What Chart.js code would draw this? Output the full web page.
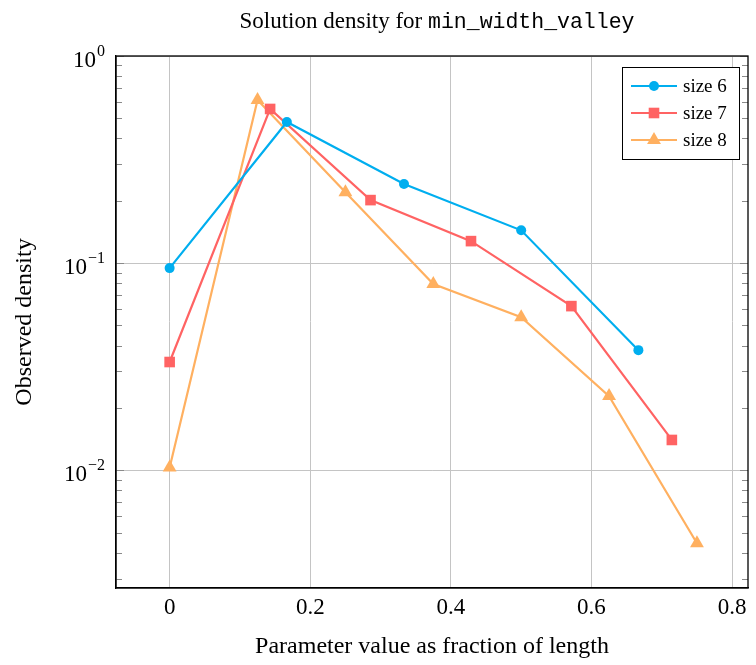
<!DOCTYPE html>
<html lang="en">
<head>
<meta charset="UTF-8">
<title>Solution density</title>
<script src="https://cdn.jsdelivr.net/npm/chart.js"></script>
<style>
  html, body { margin: 0; padding: 0; background: #fff; }
</style>
</head>
<body>
<canvas id="chart" width="756" height="665"></canvas>
<script>
// data
const seriesNames = ['size 6', 'size 7', 'size 8'];
const x6 = [0, 0.1667, 0.3333, 0.5, 0.6667];
const y6 = [0.0946, 0.48, 0.241, 0.144, 0.038];
const x7 = [0, 0.1429, 0.2857, 0.4286, 0.5714, 0.7143];
const y7 = [0.0333, 0.555, 0.2015, 0.1277, 0.062, 0.014];
const x8 = [0, 0.125, 0.25, 0.375, 0.5, 0.625, 0.75];
const y8 = [0.0103, 0.613, 0.22, 0.0792, 0.0548, 0.0228, 0.00444];
const xTicks = [0, 0.2, 0.4, 0.6, 0.8];
const yPowers = [-2, -1, 0];

const SERIF = '"Liberation Serif", "DejaVu Serif", serif';
const MONO = '"Liberation Mono", "DejaVu Sans Mono", monospace';
const colors = ['rgb(0,174,239)', 'rgb(255,99,99)', 'rgb(255,176,96)'];
const styles = ['circle', 'rect', 'triangle'];
const radii = [5, 7.5, 8];

function pts(xs, ys) { return xs.map((x, i) => ({ x: x, y: ys[i] })); }
const allX = [x6, x7, x8], allY = [y6, y7, y8];

const datasets = seriesNames.map((name, i) => ({
  label: name,
  data: pts(allX[i], allY[i]),
  borderColor: colors[i],
  backgroundColor: colors[i],
  borderWidth: 2.2,
  pointStyle: styles[i],
  pointRadius: radii[i],
  pointBorderWidth: 0,
  tension: 0
}));

function isPow10(v) {
  const l = Math.log10(v);
  return Math.abs(l - Math.round(l)) < 1e-6;
}

function drawMarker(ctx, style, r, x, y) {
  ctx.beginPath();
  if (style === 'circle') {
    ctx.arc(x, y, r, 0, Math.PI * 2);
  } else if (style === 'rect') {
    const s = r * Math.SQRT1_2;
    ctx.rect(x - s, y - s, 2 * s, 2 * s);
  } else {
    for (let k = 0; k < 3; k++) {
      const a = k * 2 * Math.PI / 3;
      const px = x + Math.sin(a) * r, py = y - Math.cos(a) * r;
      if (k === 0) ctx.moveTo(px, py); else ctx.lineTo(px, py);
    }
    ctx.closePath();
  }
  ctx.fill();
}

const decorPlugin = {
  id: 'decor',
  afterDraw(chart) {
    const { ctx, chartArea: a, scales: { x, y } } = chart;
    ctx.save();

    // minor ticks on both y sides
    ctx.strokeStyle = '#8a8a8a';
    ctx.lineWidth = 1;
    y.ticks.forEach(t => {
      const py = Math.round(y.getPixelForValue(t.value)) + 0.5;
      const len = isPow10(t.value) ? 8 : 6;
      ctx.beginPath();
      ctx.moveTo(a.left, py); ctx.lineTo(a.left + len, py);
      ctx.moveTo(a.right, py); ctx.lineTo(a.right - len, py);
      ctx.stroke();
    });

    // frame
    ctx.strokeStyle = '#000';
    ctx.lineWidth = 1.3;
    ctx.strokeRect(a.left, a.top, a.right - a.left, a.bottom - a.top);

    // y tick labels 10^n
    ctx.fillStyle = '#000';
    ctx.textBaseline = 'alphabetic';
    yPowers.forEach(p => {
      const py = y.getPixelForValue(Math.pow(10, p));
      const sup = p < 0 ? '\u2212' + (-p) : String(p);
      ctx.font = '16px ' + SERIF;
      const sw = ctx.measureText(sup).width;
      const right = a.left - 11;
      ctx.textAlign = 'right';
      ctx.fillText(sup, right, py);
      ctx.font = '23px ' + SERIF;
      ctx.fillText('10', right - sw - 1, py + 11);
    });

    // title with mixed fonts
    const t1 = 'Solution density for ', t2 = 'min_width_valley';
    ctx.font = '23px ' + SERIF;
    const w1 = ctx.measureText(t1).width;
    ctx.font = '21.5px ' + MONO;
    const w2 = ctx.measureText(t2).width;
    const cx = (a.left + a.right) / 2 + 5;
    let tx = cx - (w1 + w2) / 2;
    ctx.textAlign = 'left';
    ctx.font = '23px ' + SERIF;
    ctx.fillText(t1, tx, 28);
    ctx.font = '21.5px ' + MONO;
    ctx.fillText(t2, tx + w1, 28);

    // legend box
    const lx = 622, ly = 67, lw = 117, lh = 92;
    ctx.fillStyle = '#fff';
    ctx.fillRect(lx, ly, lw, lh);
    ctx.strokeStyle = '#000';
    ctx.lineWidth = 1;
    ctx.strokeRect(lx + 0.5, ly + 0.5, lw, lh);
    chart.data.datasets.forEach((ds, i) => {
      const ry = 86 + i * 27;
      ctx.strokeStyle = ds.borderColor;
      ctx.lineWidth = 2.2;
      ctx.beginPath();
      ctx.moveTo(631, ry); ctx.lineTo(677, ry);
      ctx.stroke();
      ctx.fillStyle = ds.backgroundColor;
      drawMarker(ctx, ds.pointStyle, ds.pointRadius, 654, ry);
      ctx.fillStyle = '#000';
      ctx.font = '19px ' + SERIF;
      ctx.textAlign = 'left';
      ctx.fillText(ds.label, 683, ry + 6);
    });

    ctx.restore();
  }
};

new Chart(document.getElementById('chart'), {
  type: 'line',
  data: { datasets: datasets },
  options: {
    responsive: false,
    animation: false,
    devicePixelRatio: 1,
    layout: { padding: { top: 56, right: 2, left: 0, bottom: 0 } },
    plugins: { legend: { display: false }, title: { display: false }, tooltip: { enabled: false } },
    scales: {
      x: {
        type: 'linear',
        min: -0.0763,
        max: 0.8226,
        afterBuildTicks: s => { s.ticks = xTicks.map(v => ({ value: v })); },
        afterFit: s => { s.height = 77; s.paddingLeft = 0; s.paddingRight = 0; },
        ticks: { color: '#000', font: { family: SERIF, size: 23 }, padding: 6, maxRotation: 0, callback: v => String(v) },
        grid: { color: '#c4c4c4', lineWidth: 1, drawTicks: false },
        border: { color: '#000', width: 1.3 },
        title: { display: true, text: 'Parameter value as fraction of length', color: '#000', font: { family: SERIF, size: 24 }, padding: { top: 0, bottom: 4 } }
      },
      y: {
        type: 'logarithmic',
        min: 0.0027,
        max: 1,
        afterBuildTicks: s => {
          const list = [];
          for (let d = -3; d <= 0; d++) {
            for (let m = 1; m <= 9; m++) {
              const v = m * Math.pow(10, d);
              if (v >= 0.0027 && v <= 1.0000001) list.push({ value: v });
            }
          }
          s.ticks = list;
        },
        afterFit: s => { s.width = 116; },
        ticks: { display: false },
        grid: { color: c => (c.tick && isPow10(c.tick.value)) ? '#c4c4c4' : 'rgba(0,0,0,0)', lineWidth: 1, drawTicks: false },
        border: { color: '#000', width: 1.3 },
        title: { display: true, text: 'Observed density', color: '#000', font: { family: SERIF, size: 24 }, padding: { top: 10, bottom: 0 } }
      }
    }
  },
  plugins: [decorPlugin]
});
</script>
</body>
</html>
